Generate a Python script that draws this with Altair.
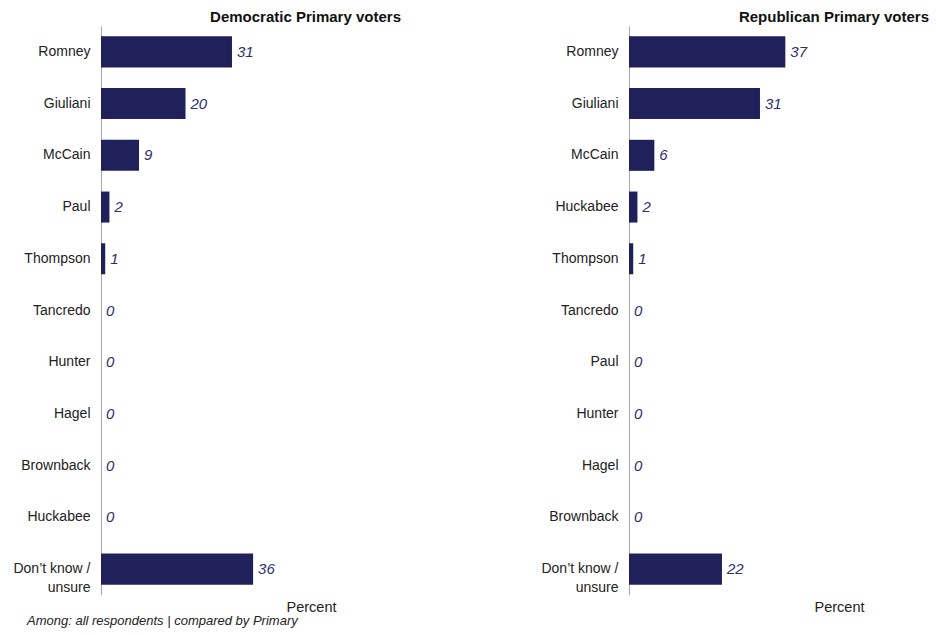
import altair as alt
import pandas as pd

dem_candidates = ["Romney", "Giuliani", "McCain", "Paul", "Thompson", "Tancredo",
                  "Hunter", "Hagel", "Brownback", "Huckabee", "Don’t know / unsure"]
dem_values = [31, 20, 9, 2, 1, 0, 0, 0, 0, 0, 36]

rep_candidates = ["Romney", "Giuliani", "McCain", "Huckabee", "Thompson", "Tancredo",
                  "Paul", "Hunter", "Hagel", "Brownback", "Don’t know / unsure"]
rep_values = [37, 31, 6, 2, 1, 0, 0, 0, 0, 0, 22]

panel_titles = ["Democratic Primary voters", "Republican Primary voters"]
x_title = "Percent"
footnote = "Among: all respondents | compared by Primary"

FONT = "Liberation Sans"
BAR = "#20215a"
VAL = "#2d2f6e"


def panel(title, cats, vals):
    df = pd.DataFrame({"candidate": cats, "value": vals})
    y = alt.Y(
        "candidate:N", sort=cats,
        scale=alt.Scale(paddingInner=0.4, paddingOuter=0.2),
        axis=alt.Axis(
            title=None, ticks=False, domainColor="#a8a8a8", domainWidth=1,
            labelFont=FONT, labelFontSize=14, labelColor="#222222",
            labelPadding=11, minExtent=93, maxExtent=93,
            labelExpr="split(replace(datum.label, ' / ', ' /~'), '~')",
            labelLineHeight=19,
        ),
    )
    x = alt.X(
        "value:Q", scale=alt.Scale(domain=[0, 71], nice=False),
        axis=alt.Axis(
            title=x_title, labels=False, ticks=False, domain=False, grid=False,
            titleFont=FONT, titleFontSize=14.5, titleFontWeight="normal",
            titleColor="#222222", titleX=210, titleY=16,
            titleBaseline="alphabetic", titleAlign="center",
        ),
    )
    bars = alt.Chart(df).mark_bar(color=BAR).encode(x=x, y=y)
    text = alt.Chart(df).mark_text(
        align="left", baseline="middle", dx=5, font=FONT, fontSize=15,
        fontStyle="italic", color=VAL,
    ).encode(
        x=alt.X("value:Q"),
        y=alt.Y("candidate:N", sort=cats),
        text=alt.Text("value:Q"),
    )
    return alt.layer(bars, text).properties(
        width=300, height=569,
        title=alt.TitleParams(
            title, anchor="end", font=FONT, fontSize=15, fontWeight="bold",
            color="#111111", offset=1,
        ),
    )


chart = alt.hconcat(
    panel(panel_titles[0], dem_candidates, dem_values),
    panel(panel_titles[1], rep_candidates, rep_values),
    spacing=135,
).properties(
    padding={"left": 0, "top": 2, "right": 0, "bottom": 0},
    title=alt.TitleParams(
        footnote, orient="bottom", anchor="start", font=FONT, fontSize=13,
        fontStyle="italic", fontWeight="normal", color="#222222", dx=19, offset=1,
    ),
).configure(background="white").configure_view(strokeWidth=0)

chart.save("out.html", embed_options={"renderer": "svg", "actions": False})
